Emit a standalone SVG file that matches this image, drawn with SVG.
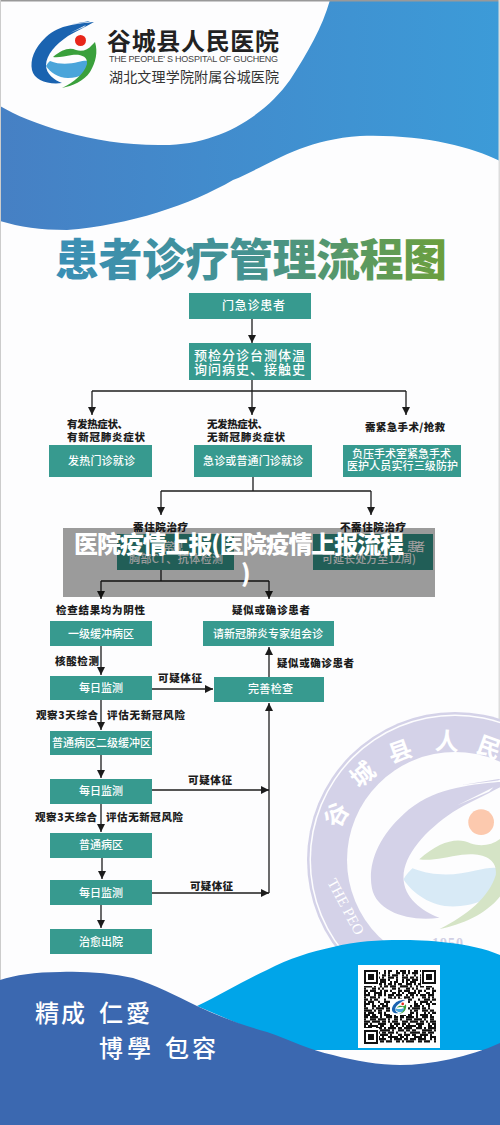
<svg xmlns="http://www.w3.org/2000/svg" xmlns:xlink="http://www.w3.org/1999/xlink" width="500" height="1125" viewBox="0 0 500 1125">
<style>
text{font-family:"Noto Sans CJK SC","Noto Sans",sans-serif}
.n{fill:#379a8f}
.w{fill:#fff;font-size:11px;font-weight:500}
.b{fill:#1c1c1c;font-size:10.5px;font-weight:900}
.c{fill:none;stroke:#1c1c1c;stroke-width:1.3}
.a{marker-end:url(#ah)}
.q{fill:none;stroke:#111;stroke-width:2.2}
.wm{fill:#fff;font-size:24px;font-weight:700;font-family:"Noto Sans CJK SC",serif}
</style>
<defs>
<marker id="ah" markerUnits="userSpaceOnUse" markerWidth="9" markerHeight="9" refX="8" refY="4" orient="auto"><path d="M0 0L8 4L0 8Z" fill="#1c1c1c"/></marker>
<linearGradient id="tg" gradientUnits="userSpaceOnUse" x1="55" y1="0" x2="447" y2="0"><stop offset="0" stop-color="#3a8fb6"/><stop offset=".5" stop-color="#459290"/><stop offset="1" stop-color="#6c9f3c"/></linearGradient>
<linearGradient id="bg" gradientUnits="userSpaceOnUse" x1="0" y1="0" x2="500" y2="0"><stop offset="0" stop-color="#4680c4"/><stop offset="1" stop-color="#3c9bd8"/></linearGradient>
<path id="l1" d="M94 22C78 24 60 24 46 37C34 48 30 60 32 70C34 80 48 85 62 83C54 80 46 74 46 65C46 55 56 44 68 36C76 31 86 27 94 22ZM90 21L72 24L88 22ZM84 27L70 33L86 25Z"/>
<path id="l2" d="M50 61C60 65 70 64 78 62C86 60 92 60 91 65C90 72 80 78 68 78C58 78 50 72 46 66C47 64 48 63 50 61Z"/>
<path id="l3" d="M53 57C62 49 70 47 76 50C82 52 88 50 92 45L95 42C98 52 96 62 90 72C84 81 72 86 62 88C74 82 84 74 87 64C88 56 80 54 72 55C65 56 58 58 53 57Z"/>
</defs>
<rect width="500" height="1125" fill="#fdfdfe"/>
<path d="M0 106C30 124 95 146 163 145C220 145 265 115 290 80C308 52 322 28 330 0H500V161C470 146 420 134 360 136C300 140 270 165 233 180C190 205 130 225 67 230C40 230 20 227 0 221Z" fill="url(#bg)"/>
<rect width="500" height="1.5" fill="#999"/><rect width="1" height="1125" fill="#ccc"/><rect x="498.5" width="1.5" height="1125" fill="#ddd"/>

<g id="logo">
<use xlink:href="#l1" href="#l1" fill="#1a63b0"/>
<use xlink:href="#l2" href="#l2" fill="#4aa5da"/>
<use xlink:href="#l3" href="#l3" fill="#3aa03c"/>
<circle cx="80.5" cy="40.5" r="5.5" fill="#e8261a"/>
</g>
<g id="header">
<text x="107" y="50" font-size="24" font-weight="700" fill="#222" textLength="172">谷城县人民医院</text>
<text x="109" y="62" font-size="9" fill="#444" style="font-family:'Liberation Sans',sans-serif" textLength="169">THE PEOPLE' S HOSPITAL OF GUCHENG</text>
<text x="109" y="82" font-size="14" fill="#333" textLength="170">湖北文理学院附属谷城医院</text>
</g>
<text id="title" x="55" y="276" font-size="44" font-weight="900" fill="url(#tg)" textLength="392">患者诊疗管理流程图</text>

<g id="watermark">
<circle cx="455" cy="860" r="148" fill="#d4d2e8"/>
<circle cx="455" cy="860" r="145.5" fill="#fdfdfe"/>
<circle cx="455" cy="860" r="144" fill="#d4d2e8"/>
<circle cx="455" cy="860" r="108" fill="#fdfdfe"/>
<g transform="translate(300 731) scale(2.25)">
<use xlink:href="#l1" href="#l1" fill="#d4d2e8"/>
<use xlink:href="#l2" href="#l2" fill="#d8eaf6"/>
<use xlink:href="#l3" href="#l3" fill="#d5e4c6"/>
<circle cx="80.5" cy="40.5" r="5.7" fill="#fcc9ae"/>
</g>
<text class="wm" transform="translate(337 815) rotate(-60)" text-anchor="middle" dy="8">谷</text>
<text class="wm" transform="translate(363 775) rotate(-40)" text-anchor="middle" dy="8">城</text>
<text class="wm" transform="translate(400 752) rotate(-20)" text-anchor="middle" dy="8">县</text>
<text class="wm" transform="translate(447 742) rotate(3)" text-anchor="middle" dy="8">人</text>
<text class="wm" transform="translate(489 748) rotate(20)" text-anchor="middle" dy="8">民</text>
<text transform="translate(327 882) rotate(62)" font-size="15" fill="#fff" style="font-family:'Liberation Serif',serif">THE PEO</text>
<text x="432" y="948" font-size="14" fill="#d0cfe4" font-weight="700" style="font-family:'Liberation Serif',serif" textLength="31">1950</text>
</g>

<g id="connectors">
<path class="c a" d="M252 319V343"/>
<path class="c" d="M92 391H406"/>
<path class="c a" d="M252 380V415"/>
<path class="c a" d="M92 391V415"/>
<path class="c a" d="M406 391V415"/>
<path class="c" d="M161 491H371M253 477V491"/>
<path class="c a" d="M161 491V515"/>
<path class="c a" d="M371 491V515"/>
<path class="c" d="M161 570V581M101 581H269"/>
<path class="c a" d="M101 581V599"/>
<path class="c a" d="M269 581V599"/>
<path class="c a" d="M101 646V675"/>
<path class="c a" d="M152 689H213"/>
<path class="c a" d="M269 677V647"/>
<path class="c a" d="M101 700V730"/>
<path class="c a" d="M101 755V778"/>
<path class="c a" d="M152 790H269"/>
<path class="c a" d="M269 893V703"/>
<path class="c a" d="M101 804V832"/>
<path class="c a" d="M102 858V879"/>
<path class="c a" d="M152 893H269"/>
<path class="c a" d="M101 905V928"/>
</g>

<g id="n1"><rect class="n" x="189" y="293" width="122" height="26"/><text class="w" x="222" y="310" style="font-size:12px" textLength="63">门急诊患者</text></g>
<g id="n2"><rect class="n" x="189" y="343" width="122" height="37"/><text class="w" style="font-size:13px" x="194" y="360" textLength="111">预检分诊台测体温</text><text class="w" style="font-size:13px" x="194" y="374" textLength="111">询问病史、接触史</text></g>
<g id="l-fever"><text class="b" x="67" y="428" textLength="61">有发热症状、</text><text class="b" x="67" y="441" textLength="78">有新冠肺炎症状</text></g>
<g id="l-nofever"><text class="b" x="207" y="428" textLength="61">无发热症状、</text><text class="b" x="207" y="441" textLength="78">无新冠肺炎症状</text></g>
<text id="l-urgent" class="b" x="365" y="431" textLength="80">需紧急手术/抢救</text>
<g id="n3"><rect class="n" x="49" y="445" width="103" height="32"/><text class="w" x="68" y="465" textLength="67">发热门诊就诊</text></g>
<g id="n4"><rect class="n" x="194" y="445" width="118" height="32"/><text class="w" x="203" y="465" textLength="100">急诊或普通门诊就诊</text></g>
<g id="n5"><rect class="n" x="343" y="445" width="118" height="32"/><text class="w" x="352" y="458" textLength="99">负压手术室紧急手术</text><text class="w" x="347" y="470" textLength="111">医护人员实行三级防护</text></g>
<text id="l-in" class="b" x="133" y="531" textLength="55">需住院治疗</text>
<text id="l-out" class="b" x="340" y="531" textLength="66">不需住院治疗</text>
<g id="n6"><rect class="n" x="117" y="534" width="117" height="36"/><text class="w" x="163" y="551" textLength="20">常规</text><text class="w" x="129" y="563" textLength="94">胸部CT、抗体检测</text></g>
<g id="n7"><rect class="n" x="313" y="534" width="120" height="36"/><text class="w" x="407" y="551" textLength="18">患者</text><text class="w" x="322" y="563" textLength="94">可延长处方至12周)</text></g>

<g id="l-neg"><text class="b" x="56" y="614" textLength="89">检查结果均为阴性</text></g>
<text id="l-susp1" class="b" x="232" y="614" textLength="78">疑似或确诊患者</text>
<g id="n8"><rect class="n" x="50" y="621" width="102" height="25"/><text class="w" x="68" y="638" textLength="66">一级缓冲病区</text></g>
<g id="n9"><rect class="n" x="203" y="621" width="131" height="25"/><text class="w" x="213" y="638" textLength="110">请新冠肺炎专家组会诊</text></g>
<text id="l-na" class="b" x="55" y="665" textLength="44">核酸检测</text>
<text id="l-susp2" class="b" x="277" y="667" textLength="77">疑似或确诊患者</text>
<g id="n10"><rect class="n" x="50" y="676" width="102" height="24"/><text class="w" x="79" y="692" textLength="44">每日监测</text></g>
<text id="l-k1" class="b" x="158" y="682" textLength="44">可疑体征</text>
<g id="n11"><rect class="n" x="214" y="677" width="110" height="25"/><text class="w" x="248" y="693" textLength="45">完善检查</text></g>
<text id="l-o1" class="b" x="36" y="719" textLength="62">观察3天综合</text>
<text id="l-p1" class="b" x="107" y="719" textLength="78">评估无新冠风险</text>
<g id="n12"><rect class="n" x="50" y="731" width="102" height="24"/><text class="w" x="52" y="747" textLength="99">普通病区二级缓冲区</text></g>
<g id="n13"><rect class="n" x="50" y="779" width="102" height="25"/><text class="w" x="79" y="795" textLength="44">每日监测</text></g>
<text id="l-k2" class="b" x="188" y="784" textLength="44">可疑体征</text>
<text id="l-o2" class="b" x="35" y="821" textLength="62">观察3天综合</text>
<text id="l-p2" class="b" x="106" y="821" textLength="77">评估无新冠风险</text>
<g id="n14"><rect class="n" x="50" y="833" width="102" height="25"/><text class="w" x="79" y="849" textLength="44">普通病区</text></g>
<g id="n15"><rect class="n" x="50" y="880" width="102" height="25"/><text class="w" x="79" y="897" textLength="44">每日监测</text></g>
<text id="l-k3" class="b" x="190" y="890" textLength="43">可疑体征</text>
<g id="n16"><rect class="n" x="50" y="929" width="102" height="25"/><text class="w" x="79" y="946" textLength="44">治愈出院</text></g>

<g id="footer">
<path d="M197 1006C220 995 245 980 267 970C290 958 310 952 333 947C355 941 380 940 400 940C425 940 470 942 500 955V1050H300Z" fill="#00a5e9"/>
<path d="M0 980C15 975 35 972 60 972C85 971 110 973 133 978C155 985 175 995 197 1006C220 1017 245 1026 267 1032C290 1040 310 1050 333 1055C355 1061 380 1065 400 1065C430 1065 470 1057 500 1043V1125H0Z" fill="#3b68b0"/>
<g fill="#fff" font-size="24" font-weight="500">
<text x="35 61 99 126" y="1022" style="font-family:'Noto Sans CJK TC',sans-serif">精成仁愛</text>
<text x="99 127 165 192" y="1057" style="font-family:'Noto Sans CJK TC',sans-serif">博學包容</text>
</g>
</g>

<g id="qr">
<rect x="358" y="965" width="82" height="83" fill="#fff"/>
<path class="q" d="M364 971h72" stroke-dasharray="2 4 4 2 2 6 2 2 4 4 2 2 6 2"/>
<path class="q" d="M364 973.2h72" stroke-dasharray="4 2 2 2 6 4 2 2 2 6 4 2"/>
<path class="q" d="M364 975.4h72" stroke-dasharray="2 2 2 6 2 4 4 2 2 2 6 4"/>
<path class="q" d="M364 977.6h72" stroke-dasharray="6 2 4 2 2 2 2 4 6 2 2 4"/>
<path class="q" d="M364 979.8h72" stroke-dasharray="2 4 2 2 4 2 6 2 2 6"/>
<path class="q" d="M364 982h72" stroke-dasharray="4 4 2 2 2 2 6 4 2 2"/>
<path class="q" d="M364 984.2h72" stroke-dasharray="2 2 4 4 6 2 2 2 4 2"/>
<path class="q" d="M364 986.4h72" stroke-dasharray="8 2 2 4 2 2 4 2 6 4"/>
<path class="q" d="M364 988.6h72" stroke-dasharray="2 6 4 2 2 2 2 8 4 2"/>
<path class="q" d="M364 990.8h72" stroke-dasharray="4 2 6 4 2 2 4 2 2 6"/>
<path class="q" d="M364 993h72" stroke-dasharray="2 2 2 4 8 2 2 6 4 2"/>
<path class="q" d="M364 995.2h72" stroke-dasharray="6 4 2 2 4 2 2 2 6 2"/>
<path class="q" d="M364 997.4h72" stroke-dasharray="2 4 6 2 2 8 4 2 2 2"/>
<path class="q" d="M364 999.6h72" stroke-dasharray="4 2 2 2 4 6 2 4 6 2"/>
<path class="q" d="M364 1001.8h72" stroke-dasharray="2 2 6 4 2 4 8 2 2 4"/>
<path class="q" d="M364 1004h72" stroke-dasharray="6 2 2 6 4 2 2 4 4 2"/>
<path class="q" d="M364 1006.2h72" stroke-dasharray="2 6 4 2 2 2 6 2 2 4"/>
<path class="q" d="M364 1008.4h72" stroke-dasharray="4 4 2 2 8 2 4 2 2 6"/>
<path class="q" d="M364 1010.6h72" stroke-dasharray="8 2 2 2 4 4 6 2 4 2"/>
<path class="q" d="M364 1012.8h72" stroke-dasharray="2 2 6 4 4 2 2 6 2 2"/>
<path class="q" d="M364 1015h72" stroke-dasharray="6 2 4 4 2 2 8 2 2 4"/>
<path class="q" d="M364 1017.2h72" stroke-dasharray="4 2 8 2 2 4 6 2 4 2"/>
<path class="q" d="M364 1019.4h72" stroke-dasharray="2 4 6 2 8 2 2 4 4 2"/>
<path class="q" d="M364 1021.6h72" stroke-dasharray="6 2 8 2 4 2 2 2 6 4"/>
<path class="q" d="M364 1023.8h72" stroke-dasharray="4 2 2 6 8 4 2 2 6 2"/>
<path class="q" d="M364 1026h72" stroke-dasharray="2 2 10 2 4 6 4 2 2 4"/>
<path class="q" d="M364 1028.2h72" stroke-dasharray="8 4 6 2 2 2 8 2 4 2"/>
<path class="q" d="M364 1030.4h72" stroke-dasharray="4 2 4 6 10 2 2 4 6 2"/>
<path class="q" d="M364 1032.6h72" stroke-dasharray="2 4 10 2 4 2 6 2 2 6"/>
<path class="q" d="M364 1034.8h72" stroke-dasharray="6 2 4 4 8 2 2 6 4 2"/>
<path class="q" d="M364 1037h72" stroke-dasharray="2 6 8 2 2 4 10 2 4 2"/>
<path class="q" d="M364 1039.2h72" stroke-dasharray="4 2 6 2 8 4 2 2 8 2"/>
<path class="q" d="M364 1041.4h72" stroke-dasharray="2 2 8 4 4 2 6 4 4 2"/>
<g fill="#fff"><rect x="363" y="970" width="16" height="16"/><rect x="421" y="970" width="16" height="16"/><rect x="363" y="1028" width="16" height="16"/><rect x="390" y="999" width="18" height="16"/></g>
<g fill="none" stroke="#111" stroke-width="2"><rect x="365" y="971" width="12" height="12"/><rect x="423" y="971" width="12" height="12"/><rect x="365" y="1031" width="12" height="12"/></g>
<g fill="#111"><rect x="368" y="974" width="6" height="6"/><rect x="426" y="974" width="6" height="6"/><rect x="368" y="1034" width="6" height="6"/></g>
<g transform="translate(385 995) scale(.22)">
<use xlink:href="#l1" href="#l1" fill="#1a63b0"/><use xlink:href="#l2" href="#l2" fill="#4aa5da"/><use xlink:href="#l3" href="#l3" fill="#3aa03c"/><circle cx="80.5" cy="40.5" r="6" fill="#e8261a"/>
</g>
</g>

<g id="banner">
<rect x="63" y="528" width="372" height="69" fill="#000" fill-opacity=".39"/>
<text x="74" y="553" font-size="24" font-weight="900" fill="#fff" textLength="330">医院疫情上报(医院疫情上报流程</text>
<text x="241" y="582" font-size="24" font-weight="900" fill="#fff">)</text>
</g>
</svg>
